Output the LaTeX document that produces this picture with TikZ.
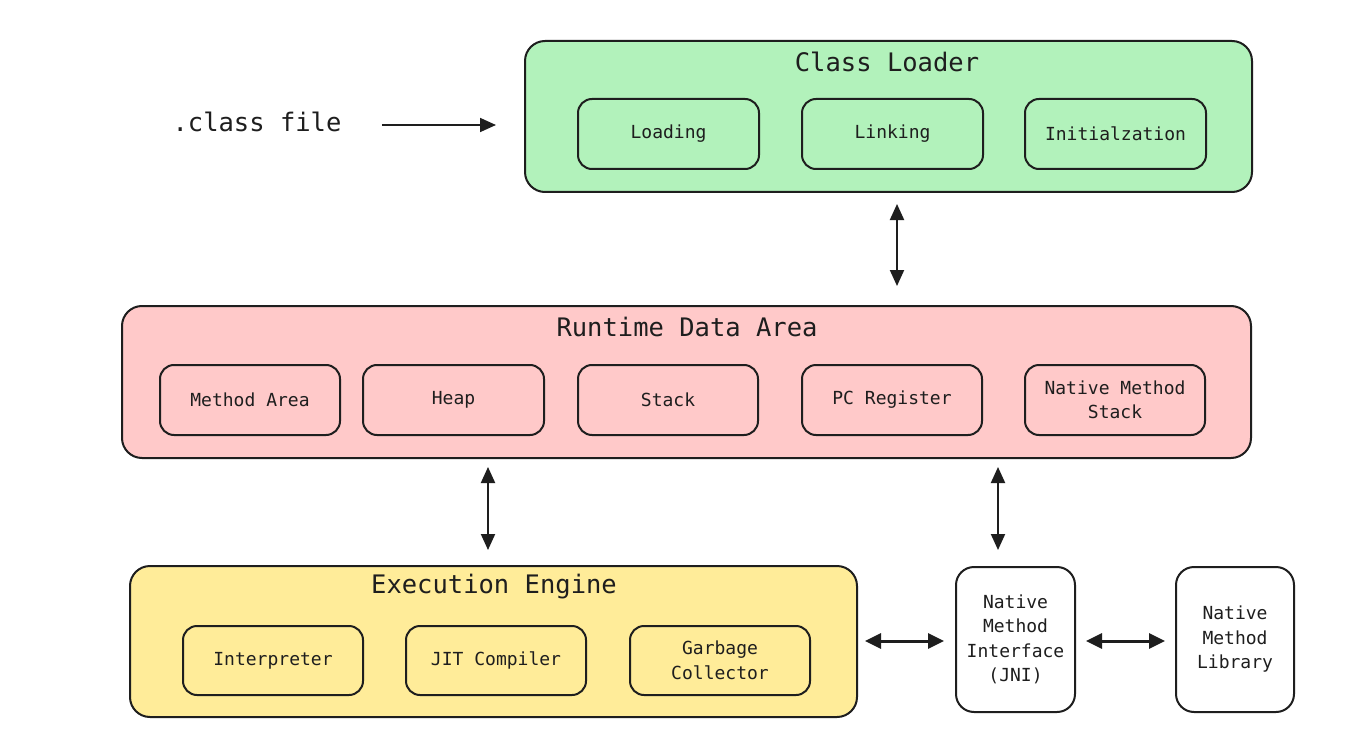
\documentclass[tikz,border=0pt]{standalone}
\usepackage{fontspec}
\setmonofont{DejaVu Sans Mono}
\usetikzlibrary{arrows.meta}
\definecolor{stroke}{HTML}{1E1E1E}
\definecolor{cgreen}{HTML}{B2F2BB}
\definecolor{cpink}{HTML}{FFC9C9}
\definecolor{cyellow}{HTML}{FFEC99}
\tikzset{
  bigbox/.style={draw=stroke, line width=2pt, rounded corners=20pt, anchor=center, inner sep=0pt},
  subbox/.style={draw=stroke, line width=2pt, rounded corners=14pt, anchor=center, inner sep=0pt,
    minimum width=180pt, minimum height=70pt, align=center,
    font=\ttfamily\fontsize{18}{24.5}\selectfont, text=stroke},
  title/.style={font=\ttfamily\fontsize{25.5}{30}\selectfont, text=stroke, anchor=center},
  arr/.style={draw=stroke, line width=1.8pt, -{Triangle[length=16pt,width=14pt]}},
  darr/.style={draw=stroke, line width=2pt, {Triangle[length=16pt,width=14pt]}-{Triangle[length=16pt,width=14pt]}},
  tarr/.style={draw=stroke, line width=3pt, {Triangle[length=16pt,width=15pt]}-{Triangle[length=16pt,width=15pt]}},
}
\begin{document}
\begin{tikzpicture}[x=1pt,y=-1pt]
\useasboundingbox[fill=white] (0,0) rectangle (1354,754);

% Class Loader
\node[bigbox, fill=cgreen, minimum width=727pt, minimum height=151pt] (cl) at (888.5,116.5) {};
\node[title] (clt) at (887,62) {Class Loader};
\node[subbox, fill=cgreen, minimum width=181pt] (load) at (668.5,134) {Loading};
\node[subbox, fill=cgreen, minimum width=181pt] (link) at (892.5,134) {Linking};
\node[subbox, fill=cgreen, minimum width=181pt] (init) at (1115.5,134) {Initialzation};

\node[title] (cf) at (257,122) {.class file};
\draw[arr, shorten <=37pt, shorten >=28pt] ([yshift=-3pt]cf.east) -- ([yshift=-3pt]cf.east -| cl.west);

% Runtime Data Area
\node[bigbox, fill=cpink, minimum width=1129pt, minimum height=152pt] (rt) at (686.5,382) {};
\node[title] (rtt) at (687,327) {Runtime Data Area};
\node[subbox, fill=cpink] (ma) at (250,400) {Method Area};
\node[subbox, fill=cpink, minimum width=181pt] (heap) at (453.5,400) {Heap};
\node[subbox, fill=cpink] (stack) at (668,400) {Stack};
\node[subbox, fill=cpink] (pc) at (892,400) {PC Register};
\node[subbox, fill=cpink] (nms) at (1115,400) {Native Method\\Stack};

\draw[darr, shorten <=11pt, shorten >=19pt] ([xshift=8.5pt]cl.south) -- ([xshift=8.5pt]cl.south |- rt.north);

% Execution Engine
\node[bigbox, fill=cyellow, minimum width=727pt, minimum height=151pt] (ex) at (493.5,641.5) {};
\node[title] (ext) at (494,587) {Execution Engine};
\node[subbox, fill=cyellow, minimum height=69pt] (interp) at (273,660.5) {Interpreter};
\node[subbox, fill=cyellow, minimum height=69pt] (jit) at (496,660.5) {JIT Compiler};
\node[subbox, fill=cyellow, minimum height=69pt] (gc) at (720,660.5) {Garbage\\Collector};

% Native
\node[subbox, fill=white, minimum width=119pt, minimum height=145pt, rounded corners=18pt] (jni) at (1015.5,639.5) {Native\\Method\\Interface\\(JNI)};
\node[subbox, fill=white, minimum width=118pt, minimum height=145pt, rounded corners=18pt] (lib) at (1235,639.5) {Native\\Method\\Library};

\draw[darr, shorten <=8pt, shorten >=15pt] ([xshift=-5.5pt]ex.north |- rt.south) -- ([xshift=-5.5pt]ex.north);
\draw[darr, shorten <=8pt, shorten >=16pt] ([xshift=-17.5pt]jni.north |- rt.south) -- ([xshift=-17.5pt]jni.north);

\draw[tarr, shorten <=7pt, shorten >=11pt] ([yshift=-1.5pt]ex.east |- jni.west) -- ([yshift=-1.5pt]jni.west);
\draw[tarr, shorten <=10pt, shorten >=10pt] ([yshift=-1.5pt]jni.east) -- ([yshift=-1.5pt]lib.west);
\end{tikzpicture}
\end{document}
